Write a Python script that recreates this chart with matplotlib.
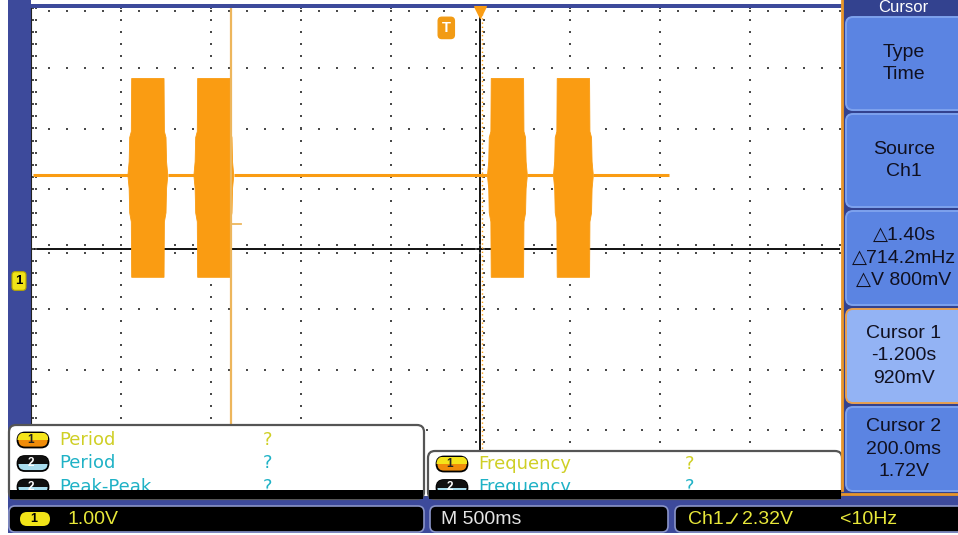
"""Oscilloscope screen capture: two pairs of RF bursts with time cursors."""

import matplotlib

matplotlib.use("Agg")
import matplotlib.pyplot as plt
import numpy as np
from matplotlib.patches import FancyBboxPatch, Rectangle

plt.rcParams["font.family"] = ["Liberation Sans", "DejaVu Sans"]

W, H = 958, 535

# scope settings
SEC_PER_DIV = 0.5
VOLT_PER_DIV = 1.0
H_CENTER = 0.19  # time at screen centre (s)
V_CENTER = 0.5  # volts at screen centre
DIVS_LEFT, DIVS_RIGHT = 5, 4
DIVS_UP, DIVS_DOWN = 4, 4

# trace
TRACE_START, TRACE_END = -2.30, 1.24
BASELINE_V = 1.72
BURST_START = [-1.771, -1.404, 0.229, 0.596]
BURST_END = [-1.549, -1.182, 0.451, 0.818]
ENV_LEVEL = [0.03, 0.95, 1.1, 1.5, 1.72, 1.95, 2.35, 2.45, 3.33]
ENV_INSET = [0.021, 0.019, 0.01, 0.007, 0.0, 0.007, 0.01, 0.019, 0.021]

# cursors / trigger
TRIGGER_T = 0.0
CURSOR1_T, CURSOR1_V = -1.200, 0.92
CURSOR2_T, CURSOR2_V = 0.200, 1.72

# on-screen readouts
MENU_TITLE = "Cursor"
MENU_ITEMS = [
    "Type\nTime",
    "Source\nCh1",
    "\u25b31.40s\n\u25b3714.2mHz\n\u25b3V 800mV",
    "Cursor 1\n-1.200s\n920mV",
    "Cursor 2\n200.0ms\n1.72V",
]
MEAS_LEFT = [("1", "Period", "?"), ("2", "Period", "?"), ("2", "Peak-Peak", "?")]
MEAS_RIGHT = [("1", "Frequency", "?"), ("2", "Frequency", "?")]
STATUS_VOLTS = "1.00V"
STATUS_TIME = "M 500ms"
STATUS_TRIG_SRC, STATUS_TRIG_LVL = "Ch1", "2.32V"
STATUS_FREQ = "<10Hz"

ORANGE = "#FA9C12"
BLUE = "#3D4A9B"
YELLOW_TXT = "#CFCF25"
CYAN_TXT = "#1FB2C6"
STATUS_YEL = "#E8E83A"
DOT = "#4a4a4a"

fig = plt.figure(figsize=(W / 100, H / 100), dpi=100)
fig.patch.set_facecolor("white")

# background screen layer (pixel coordinates)
bg = fig.add_axes([0, 0, 1, 1], zorder=0)
bg.set_xlim(0, W)
bg.set_ylim(H, 0)
bg.axis("off")
bg.add_patch(Rectangle((8, 0), 23, 500, fc=BLUE, ec="none"))
bg.add_patch(Rectangle((8, 4), 834, 4, fc=BLUE, ec="none"))
bg.add_patch(Rectangle((8, 496), W, 37, fc=BLUE, ec="none"))

# scope graticule
left_px, right_px, top_px, bot_px = 31, 840, 8, 490
ax = fig.add_axes(
    [left_px / W, 1 - bot_px / H, (right_px - left_px) / W, (bot_px - top_px) / H], zorder=1
)
t0 = H_CENTER - DIVS_LEFT * SEC_PER_DIV
t1 = H_CENTER + DIVS_RIGHT * SEC_PER_DIV
v0 = V_CENTER - DIVS_DOWN * VOLT_PER_DIV
v1 = V_CENTER + DIVS_UP * VOLT_PER_DIV
ax.set_xlim(t0, t1)
ax.set_ylim(v0, v1)
ax.set_xticks([])
ax.set_yticks([])
for s in ax.spines.values():
    s.set_visible(False)
ax.spines["left"].set_visible(True)
ax.spines["left"].set_color("#222222")

sub_t = np.arange(t0, t1 + 1e-9, SEC_PER_DIV / 5)
sub_v = np.arange(v0, v1 + 1e-9, VOLT_PER_DIV / 5)
for k in range(-DIVS_LEFT + 1, DIVS_RIGHT):
    if k == 0:
        continue
    tx = H_CENTER + k * SEC_PER_DIV
    ax.scatter(np.full_like(sub_v, tx), sub_v, s=1.6, marker="s", color=DOT, lw=0, zorder=1)
for m in range(-DIVS_DOWN + 1, DIVS_UP):
    if m == 0:
        continue
    vy = V_CENTER + m * VOLT_PER_DIV
    ax.scatter(sub_t, np.full_like(sub_t, vy), s=1.6, marker="s", color=DOT, lw=0, zorder=1)
# centre cross with minor ticks
ax.axhline(V_CENTER, color="#111111", lw=1.4, zorder=1)
ax.axvline(H_CENTER, color="#111111", lw=1.4, zorder=1)
for off in (-0.022, 0.022):
    ax.scatter(np.full_like(sub_v, H_CENTER + off), sub_v, s=1.6, marker="s", color=DOT, lw=0)
for off in (-0.07, 0.07):
    ax.scatter(sub_t, np.full_like(sub_t, V_CENTER + off), s=1.6, marker="s", color=DOT, lw=0)
# edge ticks
for off in (0.012, 0.03):
    ax.scatter(np.full_like(sub_v, t0 + off), sub_v, s=1.6, marker="s", color=DOT, lw=0)
ax.scatter(sub_t, np.full_like(sub_t, v1 - 0.05), s=1.6, marker="s", color=DOT, lw=0)

# waveform: baseline segments between bursts
seg_starts = [TRACE_START] + BURST_END
seg_ends = BURST_START + [TRACE_END]
for a, b in zip(seg_starts, seg_ends):
    ax.plot([a, b], [BASELINE_V, BASELINE_V], color=ORANGE, lw=2.2, zorder=3,
            solid_capstyle="butt")
# bursts as envelope polygons
for s, e in zip(BURST_START, BURST_END):
    xs = [s + d for d in ENV_INSET] + [e - d for d in ENV_INSET[::-1]]
    ys = ENV_LEVEL + ENV_LEVEL[::-1]
    ax.fill(xs, ys, color=ORANGE, lw=0.6, ec=ORANGE, zorder=3)

# cursors
ax.axvline(CURSOR1_T, color="#EDB65C", lw=1.6, zorder=4)
ax.plot([CURSOR1_T, CURSOR1_T + 0.056], [CURSOR1_V, CURSOR1_V], color="#EDB65C", lw=1.3, zorder=4)
ax.axvline(CURSOR2_T, color=ORANGE, lw=1.0, ls=(0, (1, 2)), zorder=2)

# trigger markers
ax.text(TRIGGER_T, v1 - 0.33, "T", color="white", fontsize=10.5, fontweight="bold",
        ha="center", va="center", zorder=5,
        bbox=dict(boxstyle="round,pad=0.25", fc="#F29B14", ec="#F29B14"))
ax.scatter([H_CENTER], [v1 - 0.07], marker="v", s=70, color=ORANGE, zorder=5, clip_on=False)

# overlay layer (pixel coordinates)
ov = fig.add_axes([0, 0, 1, 1], zorder=2)
ov.set_xlim(0, W)
ov.set_ylim(H, 0)
ov.axis("off")
ov.patch.set_alpha(0)

# channel 1 ground marker
ov.text(19, 281, "1", fontsize=9.5, fontweight="bold", color="black", ha="center", va="center",
        bbox=dict(boxstyle="round,pad=0.25", fc="#F1E318", ec="#B8A800", lw=0.8))


def badge(cx, cy, label, top, bottom, txt, w=31, h=15):
    pill = FancyBboxPatch((cx - w / 2, cy - h / 2), w, h,
                          boxstyle=f"round,pad=0,rounding_size={h / 2}",
                          fc=bottom, ec="black", lw=1.3, zorder=6)
    ov.add_patch(pill)
    half = Rectangle((cx - w / 2, cy - h / 2), w, h / 2, fc=top, ec="none", zorder=6.5)
    ov.add_patch(half)
    half.set_clip_path(pill)
    ov.text(cx - 2, cy, label, fontsize=8.5, fontweight="bold", color=txt,
            ha="center", va="center", zorder=7)


def meas_box(x0, y0, x1, rows, first_y, q_x):
    ov.add_patch(FancyBboxPatch((x0, y0), x1 - x0, 499 - y0,
                                boxstyle="round,pad=0,rounding_size=7",
                                fc="white", ec="#555555", lw=1.6, zorder=5))
    for i, (ch, name, val) in enumerate(rows):
        y = first_y + 23.5 * i
        if ch == "1":
            badge(x0 + 24, y, ch, "#F5E41A", "#F08C0A", "#222222")
            col = YELLOW_TXT
        else:
            badge(x0 + 24, y, ch, "#101010", "#A9DDEE", "white")
            col = CYAN_TXT
        ov.text(x0 + 50, y, name, color=col, fontsize=13, family="DejaVu Sans",
                ha="left", va="center", zorder=7)
        ov.text(q_x, y, val, color=col, fontsize=13, family="DejaVu Sans",
                ha="center", va="center", zorder=7)
    ov.add_patch(Rectangle((x0 + 1, 490), x1 - x0 - 2, 9, fc="black", ec="none", zorder=8))


meas_box(9, 425, 424, MEAS_LEFT, 440, 268)
meas_box(428, 451, 842, MEAS_RIGHT, 464, 690)

# status bar
for x0, x1 in [(9, 424), (430, 668), (675, 975)]:
    ov.add_patch(FancyBboxPatch((x0, 506), x1 - x0, 26, boxstyle="round,pad=0,rounding_size=6",
                                fc="black", ec="#8A94C8", lw=1.2, zorder=5))
ov.add_patch(FancyBboxPatch((20, 512), 30, 14, boxstyle="round,pad=0,rounding_size=7",
                            fc="#F1E318", ec="none", zorder=6))
ov.text(34, 519, "1", fontsize=9, fontweight="bold", color="black", ha="center", va="center",
        zorder=7)
ov.text(68, 519, STATUS_VOLTS, color=STATUS_YEL, fontsize=14, ha="left", va="center", zorder=7)
ov.text(441, 519, STATUS_TIME, color="#E4E4E4", fontsize=14, ha="left", va="center", zorder=7)
ov.text(688, 519, STATUS_TRIG_SRC, color=STATUS_YEL, fontsize=14, ha="left", va="center", zorder=7)
ov.plot([727, 731, 737], [523, 523, 514], color=STATUS_YEL, lw=1.2, zorder=7)
ov.text(742, 519, STATUS_TRIG_LVL, color=STATUS_YEL, fontsize=14, ha="left", va="center", zorder=7)
ov.text(840, 519, STATUS_FREQ, color=STATUS_YEL, fontsize=14, ha="left", va="center", zorder=7)

# right-hand menu
ov.add_patch(Rectangle((842, 0), 120, 496, fc="#33428F", ec="none", zorder=5))
ov.plot([842, 842], [0, 490], color="#E8962A", lw=2, zorder=6)
ov.plot([842, 962], [494, 494], color="#E8962A", lw=2, zorder=6)
ov.text(903, 0, MENU_TITLE, color="white", fontsize=12, ha="center", va="top", zorder=7)
btn_top = [17, 114, 211, 309, 407]
btn_bot = [110, 207, 305, 403, 491]
for i, (label, ya, yb) in enumerate(zip(MENU_ITEMS, btn_top, btn_bot)):
    hi = i == 3
    ov.add_patch(FancyBboxPatch((846, ya), 120, yb - ya, boxstyle="round,pad=0,rounding_size=7",
                                fc="#93B3F4" if hi else "#5B84E2",
                                ec="#E8A050" if hi else "#7EA2EE", lw=1.4, zorder=6))
    ov.text(904, (ya + yb) / 2, label, color="#101020", fontsize=14, ha="center",
            va="center", linespacing=1.4, zorder=7)

fig.savefig("out.png", dpi=100)
plt.close(fig)
